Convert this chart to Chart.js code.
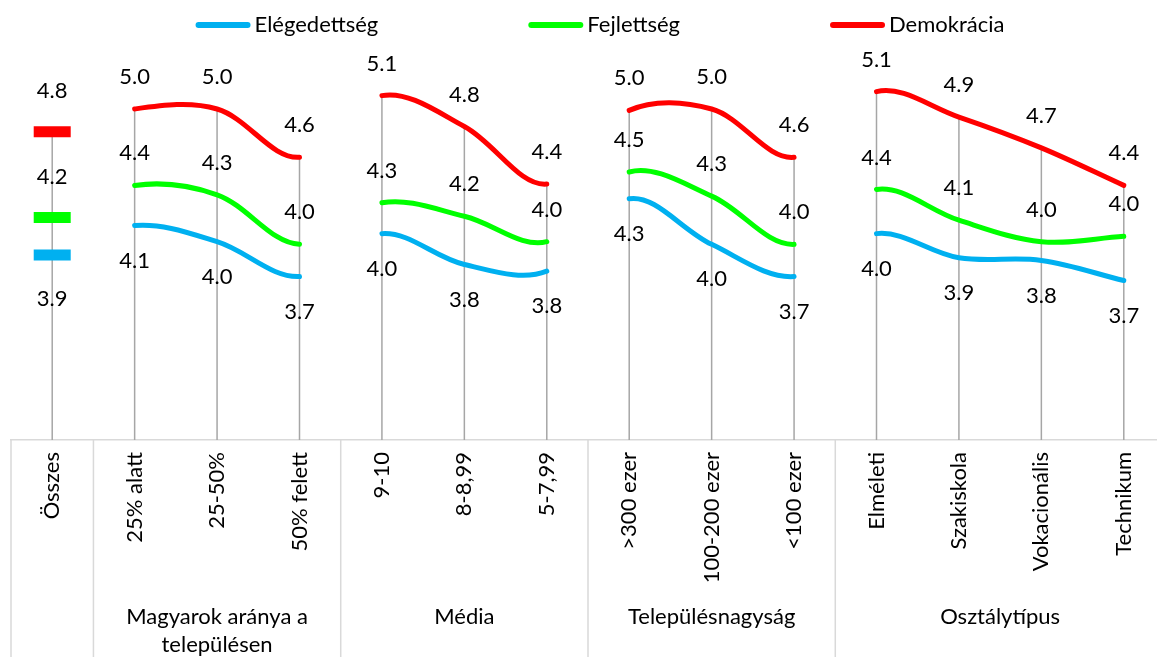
<!DOCTYPE html>
<html>
<head>
<meta charset="utf-8">
<script src="https://cdn.jsdelivr.net/npm/chart.js@4.4.0/dist/chart.umd.min.js"></script>
<style>
  html, body { margin: 0; padding: 0; overflow: hidden; background: #fff; }
  canvas { display: block; }
</style>
</head>
<body>
<canvas id="chart" width="1166" height="657"></canvas>
<script>
const categories = ['Összes', '25% alatt', '25-50%', '50% felett', '9-10', '8-8,99', '5-7,99',
  '>300 ezer', '100-200 ezer', '<100 ezer', 'Elméleti', 'Szakiskola', 'Vokacionális', 'Technikum'];
const groupNames = [[''], ['Magyarok aránya a', 'településen'], ['Média'], ['Településnagyság'], ['Osztálytípus']];
const groupSizes = [1, 3, 3, 3, 4];

const elegedettseg = [3.88, 4.10, 3.98, 3.72, 4.04, 3.81, 3.76, 4.30, 3.96, 3.72, 4.04, 3.86, 3.84, 3.69];
const fejlettseg   = [4.16, 4.40, 4.33, 3.96, 4.27, 4.17, 3.98, 4.50, 4.32, 3.96, 4.37, 4.14, 3.98, 4.02];
const demokracia   = [4.80, 4.97, 4.97, 4.61, 5.07, 4.84, 4.41, 4.96, 4.97, 4.61, 5.10, 4.91, 4.68, 4.40];

const seriesNames = ['Elégedettség', 'Fejlettség', 'Demokrácia'];
const seriesColors = ['#00b0f0', '#00ff00', '#ff0000'];
const seriesValues = [elegedettseg, fejlettseg, demokracia];

const FONT = '22px Lato';
Chart.defaults.font.family = 'Lato';

// group index of every category
const groupOf = [];
groupSizes.forEach((size, g) => { for (let k = 0; k < size; k++) groupOf.push(g); });

// one smoothed line per series; the pieces between groups are hidden
const datasets = seriesValues.map((vals, s) => ({
  label: seriesNames[s],
  data: vals,
  borderColor: seriesColors[s],
  backgroundColor: seriesColors[s],
  borderWidth: 5,
  borderCapStyle: 'round',
  tension: 0.35,
  pointStyle: 'line',
  pointRadius: (ctx) => (groupSizes[groupOf[ctx.dataIndex]] === 1 ? 18.5 : 0),
  pointBorderWidth: 11,
  pointBorderColor: seriesColors[s],
  segment: {
    borderColor: (ctx) => (groupOf[ctx.p0DataIndex] === groupOf[ctx.p1DataIndex] ? undefined : 'rgba(0,0,0,0)')
  }
}));

const dropLines = {
  id: 'dropLines',
  beforeDatasetsDraw(chart) {
    const { ctx, chartArea, scales: { x, y } } = chart;
    ctx.save();
    ctx.strokeStyle = '#a6a6a6';
    ctx.lineWidth = 1.5;
    categories.forEach((c, i) => {
      const top = Math.max(...seriesValues.map(v => v[i]));
      const px = x.getPixelForValue(i);
      ctx.beginPath();
      ctx.moveTo(px, y.getPixelForValue(top));
      ctx.lineTo(px, chartArea.bottom);
      ctx.stroke();
    });
    ctx.restore();
  }
};

const valueLabels = {
  id: 'valueLabels',
  afterDatasetsDraw(chart) {
    const { ctx, scales: { x, y } } = chart;
    ctx.save();
    ctx.font = FONT;
    ctx.fillStyle = '#000';
    ctx.textAlign = 'center';
    ctx.textBaseline = 'middle';
    seriesValues.forEach((vals, s) => {
      vals.forEach((v, i) => {
        const extra = groupSizes[groupOf[i]] === 1 ? 9 : 0;
        const dy = s === 0 ? 35 + extra : -(32 + extra);
        ctx.fillText(v.toFixed(1), x.getPixelForValue(i), y.getPixelForValue(v) + dy);
      });
    });
    ctx.restore();
  }
};

const groupAxis = {
  id: 'groupAxis',
  afterDraw(chart) {
    const { ctx, chartArea, scales: { x } } = chart;
    const half = (x.getPixelForValue(1) - x.getPixelForValue(0)) / 2;
    ctx.save();
    ctx.strokeStyle = '#d9d9d9';
    ctx.lineWidth = 1.5;
    ctx.font = FONT;
    ctx.fillStyle = '#000';
    ctx.textAlign = 'center';
    ctx.textBaseline = 'middle';
    let start = 0;
    groupSizes.forEach((size, g) => {
      const left = x.getPixelForValue(start) - half;
      const right = x.getPixelForValue(start + size - 1) + half;
      ctx.beginPath();
      ctx.moveTo(left, chartArea.bottom);
      ctx.lineTo(left, chart.height);
      ctx.stroke();
      groupNames[g].forEach((line, k) => {
        ctx.fillText(line, (left + right) / 2, chartArea.bottom + 177 + k * 28);
      });
      start += size;
    });
    ctx.restore();
  }
};

const topLegend = {
  id: 'topLegend',
  afterDraw(chart) {
    const { ctx } = chart;
    const lineLen = 55, textGap = 4, itemGap = 150, cy = 25;
    ctx.save();
    ctx.font = FONT;
    ctx.textBaseline = 'middle';
    ctx.textAlign = 'left';
    const widths = seriesNames.map(n => lineLen + textGap + ctx.measureText(n).width);
    const total = widths.reduce((a, b) => a + b, 0) + itemGap * (widths.length - 1);
    let cx = 600 - total / 2;
    seriesNames.forEach((name, s) => {
      ctx.strokeStyle = seriesColors[s];
      ctx.lineWidth = 6;
      ctx.lineCap = 'round';
      ctx.beginPath();
      ctx.moveTo(cx + 3, cy);
      ctx.lineTo(cx + lineLen - 3, cy);
      ctx.stroke();
      ctx.fillStyle = '#000';
      ctx.fillText(name, cx + lineLen + textGap, cy);
      cx += widths[s] + itemGap;
    });
    ctx.restore();
  }
};

new Chart(document.getElementById('chart'), {
  type: 'line',
  data: { labels: categories, datasets },
  options: {
    responsive: false,
    animation: false,
    events: [],
    layout: { autoPadding: false, padding: { left: 11, right: 1, top: 38, bottom: 0 } },
    plugins: { legend: { display: false }, tooltip: { enabled: false } },
    scales: {
      x: {
        offset: true,
        grid: { display: false, drawTicks: false },
        border: { display: true, color: '#d9d9d9', width: 1.5 },
        ticks: {
          autoSkip: false,
          minRotation: 90,
          maxRotation: 90,
          padding: 12,
          color: '#000',
          font: { family: 'Lato', size: 22 }
        },
        afterFit: (scale) => {
          scale.height = 217;
          scale.paddingLeft = 0;
          scale.paddingRight = 0;
        }
      },
      y: { display: false, min: 2.5, max: 5.5 }
    }
  },
  plugins: [dropLines, valueLabels, groupAxis, topLegend]
});
</script>
</body>
</html>
